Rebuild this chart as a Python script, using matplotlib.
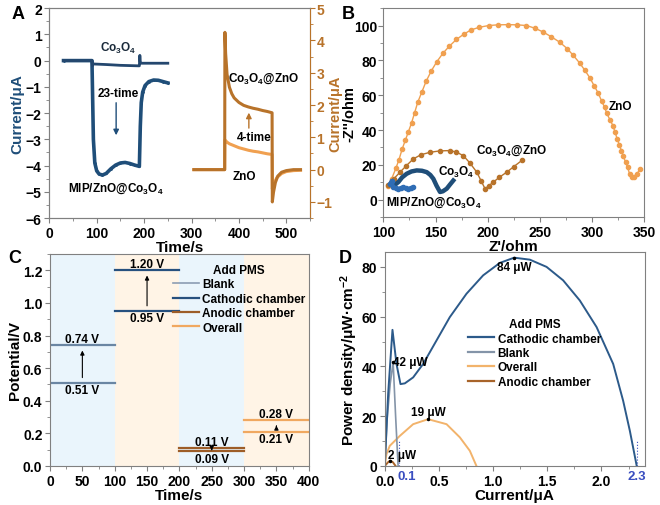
import numpy as np
import matplotlib
matplotlib.use("Agg")
import matplotlib.pyplot as plt
from matplotlib.ticker import MultipleLocator, FormatStrFormatter

plt.rcParams['font.family'] = ['Liberation Sans', 'DejaVu Sans']
plt.rcParams['font.weight'] = 'bold'
plt.rcParams['axes.labelweight'] = 'bold'
plt.rcParams['mathtext.fontset'] = 'custom'
plt.rcParams['mathtext.rm'] = 'Liberation Sans:bold'
plt.rcParams['mathtext.bf'] = 'Liberation Sans:bold'
plt.rcParams['mathtext.it'] = 'Liberation Sans:bold'

CO = r'Co$_{\mathbf{3}}$O$_{\mathbf{4}}$'

# ---- panel A data (i-t curves)
t_co = [30, 90, 91, 92, 95, 120, 150, 190, 191, 192, 194, 200, 250]
i_co = [0, 0, -0.2, -0.12, -0.13, -0.15, -0.18, -0.2, 0.2, -0.05, -0.1, -0.1, -0.1]
t_mip = [30, 90, 91, 93, 96, 100, 105, 112, 120, 130, 140, 150, 160, 170, 180, 190,
         192, 194, 197, 202, 210, 220, 230, 240, 250]
i_mip = [0, 0, -1.0, -3.0, -3.9, -4.2, -4.32, -4.36, -4.3, -4.12, -3.98, -3.9, -3.88,
         -3.92, -3.98, -4.03, -2.5, -1.6, -1.2, -0.95, -0.8, -0.74, -0.75, -0.8, -0.85]
t_zno = [305, 370, 370.5, 375, 380, 390, 400, 410, 420, 430, 440, 450, 460, 470,
         470.5, 473, 480, 490, 500, 515, 530]
i_zno = [0, 0, 0.92, 0.85, 0.8, 0.74, 0.68, 0.64, 0.6, 0.57, 0.55, 0.52, 0.49, 0.47,
         -0.6, -0.45, -0.25, -0.12, -0.06, -0.03, -0.02]
t_cz = [305, 370, 370.5, 372, 375, 380, 385, 390, 400, 410, 420, 430, 440, 450, 460,
        470, 470.5, 473, 477, 482, 490, 500, 515, 530]
i_cz = [0, 0, 4.25, 3.6, 2.95, 2.55, 2.35, 2.22, 2.08, 1.99, 1.94, 1.9, 1.87, 1.83,
        1.8, 1.76, -1.0, -0.7, -0.4, -0.2, -0.08, -0.03, 0, 0]

# ---- panel B data (Nyquist)
zr_zno = [104, 108, 112, 115, 118, 121, 124, 127, 130, 133, 137, 141, 146, 151, 157,
          163, 170, 177, 184, 192, 201, 210, 219, 228, 237, 245, 253, 261, 269, 276,
          282, 288, 293, 298, 302, 306, 309, 312, 314, 317, 320, 322, 324, 326, 328,
          330, 332, 334, 336, 338, 340, 343, 346]
zi_zno = [8, 12, 18, 23, 29, 34, 39, 44, 50, 56, 62, 68, 74, 79, 84, 88, 92, 95, 97.5,
          99, 100, 100.4, 100.5, 100.4, 100, 98.5, 96.3, 93.5, 90.4, 86.8, 82.8, 78.5,
          74.3, 69.8, 65.3, 61, 56.7, 53, 49.5, 46, 42.4, 38.6, 34.9, 31.5, 28.2, 24.8,
          21.5, 18.5, 14.5, 13, 13.2, 15, 17.5]
zr_cz = [104, 110, 116, 122, 128.7, 136, 144.7, 154, 163.9, 170, 176.6, 183, 189.5,
         193.5, 197.4, 201, 205.4, 211, 218.2, 225, 232.6]
zi_cz = [8.2, 12, 15.8, 19.5, 23.4, 25.8, 27.2, 28, 28.2, 27.3, 25.3, 21, 15.8, 11,
         6.3, 8, 10.1, 12.8, 15.8, 19, 22.5]
zr_co = [110, 114.4, 118, 122.4, 127, 132, 137, 141.6, 145, 147.9, 151, 154.3, 157,
         160.7, 164, 167]
zi_co = [8, 10.1, 12.8, 14.9, 16.2, 16.8, 16.6, 15.8, 14.2, 12, 8, 4.4, 4.8, 6.3, 8.8, 11]
zr_mip = [106, 108, 109.6, 112, 114.4, 117, 119.2, 122, 124, 126.5, 128.7]
zi_mip = [9, 11, 7.2, 6.8, 6.3, 6.9, 7.2, 6.6, 6.3, 6.9, 7.2]

# ---- panel C data (potentials)
seg_start = [0, 100, 200, 300]
v_low = [0.51, 0.95, 0.09, 0.21]
v_high = [0.74, 1.20, 0.11, 0.28]
seg_colors = ['#6a86a3', '#26507e', '#9d5d28', '#f0a860']

# ---- panel D data (power density)
j_cat = [0, 0.031, 0.071, 0.108, 0.145, 0.185, 0.262, 0.354, 0.477, 0.6, 0.754, 0.908,
         1.062, 1.194, 1.339, 1.493, 1.646, 1.8, 1.955, 2.108, 2.2, 2.262, 2.324]
p_cat = [0, 28.9, 54.7, 41, 32.9, 33.2, 35.6, 41, 50.4, 59.8, 69.2, 76.6, 81.6, 83.7,
         82.9, 80, 74.6, 66.5, 55.8, 41, 26.2, 14.1, 0.3]
j_blank = [0, 0.02, 0.05, 0.077, 0.1, 0.123]
p_blank = [0, 18, 33, 41.7, 20, 0]
j_over = [0, 0.015, 0.046, 0.139, 0.262, 0.4, 0.57, 0.693, 0.785, 0.846]
p_over = [0, 4.7, 8.1, 12.1, 16.8, 18.8, 16.8, 11.5, 6.1, 0]
j_an = [0, 0.03, 0.05, 0.075, 0.1]
p_an = [0, 1.5, 2.2, 1.5, 0]

BLUE = '#1f4e79'
MBLUE = '#2f6db5'
ORANGE = '#f0a050'
BROWN = '#b8732a'
SPINE = '#808080'

fig = plt.figure(figsize=(6.6, 5.06), dpi=100)


def style(ax, xmaj, xmin, ymaj, ymin, xaxis=True):
    if xaxis:
        ax.xaxis.set_major_locator(MultipleLocator(xmaj))
        ax.xaxis.set_minor_locator(MultipleLocator(xmin))
    ax.yaxis.set_major_locator(MultipleLocator(ymaj))
    ax.yaxis.set_minor_locator(MultipleLocator(ymin))
    ax.tick_params(which='major', direction='out', length=3.5, width=0.8,
                   labelsize=10, color=SPINE, pad=2)
    ax.tick_params(which='minor', direction='out', length=2, width=0.6, color=SPINE)
    for s in ax.spines.values():
        s.set_color(SPINE)
        s.set_linewidth(0.8)


# ================= A
axA = fig.add_axes([0.0747, 0.567, 0.395, 0.415])
axA.plot(t_mip, i_mip, color=BLUE, lw=2.6, marker='.', ms=2)
axA.plot(t_co, i_co, color='#24476e', lw=2)
axA.set_xlim(0, 550)
axA.set_ylim(-6, 2)
style(axA, 100, 50, 1, 0.5)
axA.set_xlabel('Time/s', fontsize=11, labelpad=0)
axA.set_ylabel('Current/μA', fontsize=11, color=BLUE, labelpad=1)
axA.text(146, 0.5, CO, fontsize=8.5, ha='center', va='center', color='#1a2a3a')
axA.text(146, -1.24, '23-time', fontsize=8.5, ha='center', va='center')
axA.annotate('', xy=(141, -2.95), xytext=(141, -1.5),
             arrowprops=dict(arrowstyle='-|>', color=BLUE, lw=1, mutation_scale=8))
axA.text(140, -4.85, 'MIP/ZnO@' + CO, fontsize=8.5, ha='center', va='center')

axA2 = axA.twinx()
axA2.plot(t_zno, i_zno, color=ORANGE, lw=2.2)
axA2.plot(t_cz, i_cz, color=BROWN, lw=2.2)
axA2.set_ylim(-1.5, 5)
style(axA2, 1, 0.5, 1, 0.5, xaxis=False)
axA2.tick_params(axis='y', which='both', colors=BROWN, labelcolor=BROWN, pad=1)
axA2.spines['right'].set_color(BROWN)
axA2.set_ylabel('Current/μA', fontsize=10.5, color=BROWN, labelpad=-3)
axA2.text(452, 2.85, CO + '@ZnO', fontsize=8.5, ha='center', va='center')
axA2.text(432, 1.0, '4-time', fontsize=8.5, ha='center', va='center')
axA2.annotate('', xy=(421, 1.85), xytext=(421, 1.2),
              arrowprops=dict(arrowstyle='-|>', color=BROWN, lw=1, mutation_scale=8))
axA2.text(412, -0.2, 'ZnO', fontsize=8.5, ha='center', va='center')

# ================= B
axB = fig.add_axes([0.5808, 0.569, 0.3955, 0.413])
axB.plot(zr_zno, zi_zno, color=ORANGE, lw=1, marker='o', ms=3, mec=ORANGE)
axB.plot(zr_cz, zi_cz, color=BROWN, lw=1, marker='o', ms=3, mec=BROWN)
axB.plot(zr_co, zi_co, color=BLUE, lw=3.2)
axB.plot(zr_mip, zi_mip, color=MBLUE, lw=2.5, marker='o', ms=3)
axB.set_xlim(100, 350)
axB.set_ylim(-10, 110)
style(axB, 50, 25, 20, 10)
axB.tick_params(axis='y', pad=1)
axB.set_xlabel("Z'/ohm", fontsize=11, labelpad=0)
axB.set_ylabel("-Z''/ohm", fontsize=10.5, labelpad=-2)
axB.text(327, 54, 'ZnO', fontsize=8.5, ha='center', va='center')
axB.text(223, 28.5, CO + '@ZnO', fontsize=8.5, ha='center', va='center')
axB.text(170, 16, CO, fontsize=8.5, ha='center', va='center')
axB.text(148, -1, 'MIP/ZnO@' + CO, fontsize=8.5, ha='center', va='center')

# ================= C
axC = fig.add_axes([0.0758, 0.0771, 0.392, 0.419])
bg = ['#eaf5fc', '#fff4e6', '#eaf5fc', '#fff4e6']
for x0, c in zip(seg_start, bg):
    axC.axvspan(x0, x0 + 100, color=c, lw=0)
for x0, lo, hi, c in zip(seg_start, v_low, v_high, seg_colors):
    axC.plot([x0, x0 + 100], [lo, lo], color=c, lw=1.6)
    axC.plot([x0, x0 + 100], [hi, hi], color=c, lw=1.6)
    xm = x0 + 50
    axC.annotate('', xy=(xm, hi - 0.015), xytext=(xm, lo + 0.015),
                 arrowprops=dict(arrowstyle='-|>', color='black', lw=0.8,
                                 mutation_scale=6))
    axC.text(xm, hi + 0.04, '%.2f V' % hi, fontsize=8.5, ha='center', va='center')
    axC.text(xm, lo - 0.045, '%.2f V' % lo, fontsize=8.5, ha='center', va='center')
axC.set_xlim(0, 400)
axC.set_ylim(0, 1.3)
style(axC, 50, 25, 0.2, 0.1)
axC.yaxis.set_major_formatter(FormatStrFormatter('%.1f'))
axC.set_xlabel('Time/s', fontsize=11, labelpad=0)
axC.set_ylabel('Potential/V', fontsize=11, labelpad=1)
hC = [axC.plot([], [], color=c, lw=lw)[0] for c, lw in
      [('#8c9db3', 1.2), ('#26507e', 1.6), ('#9d5d28', 1.6), ('#f0a860', 1.6)]]
legC = axC.legend(hC, ['Blank', 'Cathodic chamber', 'Anodic chamber', 'Overall'],
                  title='Add PMS', loc='upper right', frameon=False, fontsize=8.5,
                  title_fontsize=8.5, handlelength=2.2, handletextpad=0.3,
                  labelspacing=0.2, borderaxespad=0.1, bbox_to_anchor=(1.01, 0.98))
legC.get_title().set_fontweight('bold')

# ================= D
axD = fig.add_axes([0.583, 0.0771, 0.394, 0.423])
axD.plot(j_over, p_over, color='#f2b36b', lw=1.4)
axD.plot(j_an, p_an, color='#a8642a', lw=1.4)
axD.plot(j_blank, p_blank, color='#8494a8', lw=1.2)
axD.plot(j_cat, p_cat, color='#2c5a8a', lw=1.4)
axD.plot([0.13, 0.13], [0, 10], color='#3a4ec0', lw=0.8, ls=':')
axD.plot([2.33, 2.33], [0, 10], color='#3a4ec0', lw=0.8, ls=':')
axD.plot([1.194, 0.077, 0.4, 0.05], [83.7, 41.7, 18.8, 2.2], 'k.', ms=3)
axD.set_xlim(0, 2.4)
axD.set_ylim(0, 86)
style(axD, 0.5, 0.25, 20, 10)
axD.xaxis.set_major_formatter(FormatStrFormatter('%.1f'))
axD.set_xlabel('Current/μA', fontsize=11, labelpad=0)
axD.set_ylabel('Power density/μW·cm$^{-2}$', fontsize=11, labelpad=1)
axD.text(1.2, 80, '84 μW', fontsize=8.5, ha='center', va='center')
axD.text(0.08, 41.7, '42 μW', fontsize=8.5, ha='left', va='center')
axD.text(0.4, 21.5, '19 μW', fontsize=8.5, ha='center', va='center')
axD.text(0.03, 4.5, '2 μW', fontsize=8.5, ha='left', va='center')
axD.text(0.2, -1.5, '0.1', fontsize=9.5, color='#3a4ec0', ha='center', va='top')
axD.text(2.33, -1.5, '2.3', fontsize=9.5, color='#3a4ec0', ha='center', va='top')
hD = [axD.plot([], [], color=c, lw=1.6)[0] for c in
      ['#2c5a8a', '#8494a8', '#f2b36b', '#a8642a']]
legD = axD.legend(hD, ['Cathodic chamber', 'Blank', 'Overall', 'Anodic chamber'],
                  title='Add PMS', loc='upper left', frameon=False, fontsize=8.5,
                  title_fontsize=8.5, handlelength=2.2, handletextpad=0.3,
                  labelspacing=0.2, bbox_to_anchor=(0.28, 0.74))
legD.get_title().set_fontweight('bold')

# panel letters
for lab, x, y in [('A', 0.018, 0.972), ('B', 0.518, 0.972),
                  ('C', 0.012, 0.49), ('D', 0.513, 0.49)]:
    fig.text(x, y, lab, fontsize=13, fontweight='bold', ha='left', va='center')

fig.savefig('out.png', dpi=100)
